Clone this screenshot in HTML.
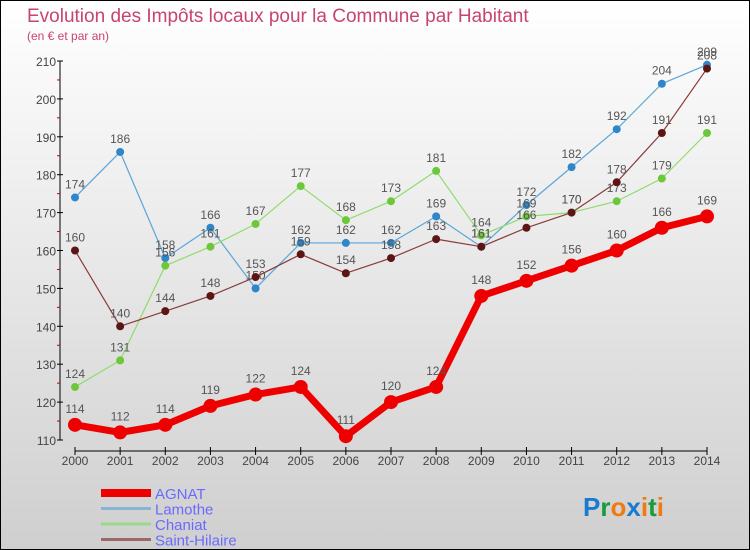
<!DOCTYPE html>
<html><head><meta charset="utf-8"><style>
html,body{margin:0;padding:0}
body{width:750px;height:550px;overflow:hidden;font-family:"Liberation Sans",sans-serif}
#wrap{position:absolute;left:0;top:0;width:748px;height:548px;border:1px solid #000;background:linear-gradient(#ffffff,#cfcfcf)}
</style></head><body>
<div id="wrap">
<svg id="chart" width="750" height="550" style="position:absolute;left:-1px;top:-1px"></svg>
</div>
<script>
const years=["2000","2001","2002","2003","2004","2005","2006","2007","2008","2009","2010","2011","2012","2013","2014"];
const agnat=[114,112,114,119,122,124,111,120,124,148,152,156,160,166,169];
const lamothe=[174,186,158,166,150,162,162,162,169,161,172,182,192,204,209];
const chaniat=[124,131,156,161,167,177,168,173,181,164,169,170,173,179,191];
const hilaire=[160,140,144,148,153,159,154,158,163,161,166,170,178,191,208];
const yTicks=[110,120,130,140,150,160,170,180,190,200,210];
const NS="http://www.w3.org/2000/svg";
const svg=document.getElementById('chart');
const X=i=>75+i*(707-75)/14;
const Y=v=>440-(v-110)*(440-61)/100;
function mk(t,a,p){const e=document.createElementNS(NS,t);for(const k in a)e.setAttribute(k,a[k]);(p||svg).appendChild(e);return e;}
function txt(x,y,s,a){const e=mk('text',Object.assign({x:x,y:y},a));e.textContent=s;return e;}
let t=txt(27,22,"Evolution des Impôts locaux pour la Commune par Habitant",{fill:"#c8446e","font-size":"19"});

t=txt(27,40,"(en € et par an)",{fill:"#c8446e","font-size":"12"});

// axes
let ax=mk('line',{x1:60,y1:61,x2:60,y2:440,stroke:"#000","stroke-width":1});

yTicks.forEach(v=>{mk('line',{x1:57,y1:Y(v),x2:63,y2:Y(v),stroke:"#000"});
 if(v<210)mk('line',{x1:57,y1:Y(v+5),x2:60,y2:Y(v+5),stroke:"#c00"});
 const l=txt(56,Y(v)+5,String(v),{fill:"#444","font-size":"12","text-anchor":"end"});
 });
ax=mk('line',{x1:X(0),y1:451,x2:X(14),y2:451,stroke:"#000"});

years.forEach((y,i)=>{mk('line',{x1:X(i),y1:447,x2:X(i),y2:455,stroke:"#000"});
 const l=txt(X(i),465,y,{fill:"#444","font-size":"12","text-anchor":"middle"});
 });
function series(d,name,col,dot,w,r,fs){
 const g=mk('g',{});
 mk('polyline',{points:d.map((v,i)=>X(i)+','+Y(v)).join(' '),fill:"none",stroke:col,"stroke-width":w,"stroke-linejoin":"round"},g);
 d.forEach((v,i)=>{const c=mk('circle',{cx:X(i),cy:Y(v),r:r,fill:dot},g);
  
  const l=txt(X(i),Y(v)-r-5,String(v),{fill:"#555","font-size":fs,"text-anchor":"middle"},g);
  });
}
series(lamothe,'lamothe',"#5aa6d8","#2f86c8",1.2,4,12);
series(chaniat,'chaniat',"#8fdc6a","#6cc83a",1.2,4,12);
series(hilaire,'saint-hilaire',"#8b3a3a","#5c1515",1.2,4,12);
series(agnat,'agnat',"#ee0000","#ee0000",7,7,12);
// legend
const leg=[["AGNAT","#ee0000",8],["Lamothe","#88b4d8",3],["Chaniat","#9ad88a",3],["Saint-Hilaire","#9a6a6a",3]];
leg.forEach((e,i)=>{const yy=493+i*15.5;
 const g=mk('g',{});
 mk('line',{x1:101,y1:yy,x2:151,y2:yy,stroke:e[1],"stroke-width":e[2]},g);
 txt(155,yy+6,e[0],{fill:"#6a6aff","font-size":"15"},g);});
// logo
const lg=mk('text',{x:583,y:516,"font-size":"26","font-family":"Liberation Sans, sans-serif","font-weight":"bold"});

[["P","#1a7ad0"],["r","#1a9a3a"],["o","#f07a10"],["x","#1a7ad0"],["i","#f07a10"],["t","#1a9a3a"],["i","#f07a10"]].forEach(c=>{const s=mk('tspan',{fill:c[1]},lg);s.textContent=c[0];});
</script>
</body></html>
